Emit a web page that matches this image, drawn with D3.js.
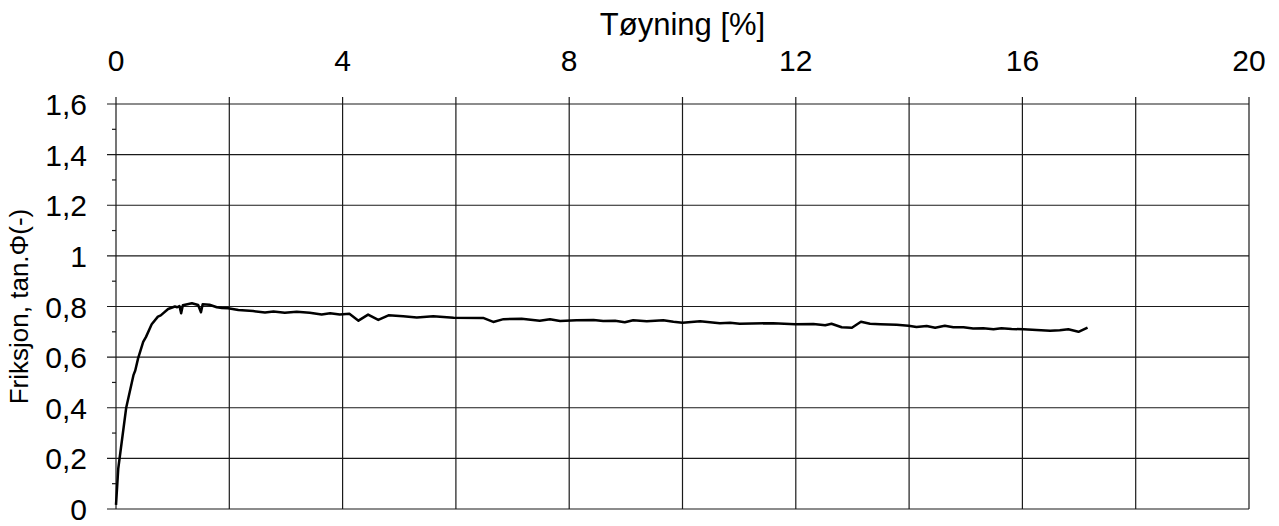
<!DOCTYPE html>
<html>
<head>
<meta charset="utf-8">
<script src="https://cdn.jsdelivr.net/npm/d3@7"></script>
<style>
  body { margin: 0; background: #fff; }
  text { font-family: "Liberation Sans", Arial, sans-serif; fill: #000; }
</style>
</head>
<body>
<div id="chart"></div>
<script>
// Tøyning [%] vs friksjon tan.Φ
const strain = [
  0, 0.04, 0.18, 0.31, 0.34, 0.39, 0.48, 0.53, 0.63, 0.74, 0.79, 0.92, 1.04, 1.08, 1.12, 1.15, 1.18,
  1.34, 1.45, 1.50, 1.53, 1.65, 1.78, 1.87, 1.98, 2.16, 2.42, 2.63, 2.78, 2.98, 3.19, 3.42, 3.63,
  3.78, 3.95, 4.12, 4.28, 4.45, 4.63, 4.81, 5.07, 5.31, 5.60, 5.96, 6.48, 6.66, 6.84, 7.16, 7.48,
  7.66, 7.84, 8.13, 8.43, 8.60, 8.81, 8.98, 9.13, 9.37, 9.66, 9.84, 10.0, 10.31, 10.66, 10.84, 11.01,
  11.60, 11.99, 12.31, 12.52, 12.63, 12.81, 12.99, 13.15, 13.31, 13.49, 13.78, 13.99, 14.13, 14.31,
  14.46, 14.63, 14.78, 14.96, 15.13, 15.31, 15.49, 15.63, 15.81, 16.02, 16.25, 16.49, 16.66, 16.81,
  16.99, 17.15
];
const friction = [
  0.016, 0.16, 0.40, 0.53, 0.547, 0.595, 0.66, 0.68, 0.73, 0.76, 0.765, 0.79, 0.80, 0.797, 0.802, 0.773, 0.805,
  0.813, 0.806, 0.777, 0.809, 0.807, 0.797, 0.794, 0.793, 0.786, 0.782, 0.776, 0.780, 0.775, 0.779, 0.775, 0.768,
  0.773, 0.768, 0.771, 0.744, 0.768, 0.747, 0.765, 0.761, 0.757, 0.761, 0.756, 0.755, 0.739, 0.750, 0.752, 0.744,
  0.750, 0.743, 0.746, 0.747, 0.743, 0.744, 0.738, 0.746, 0.742, 0.746, 0.740, 0.736, 0.742, 0.734, 0.736, 0.732,
  0.734, 0.730, 0.731, 0.726, 0.732, 0.718, 0.716, 0.740, 0.732, 0.730, 0.728, 0.724, 0.719, 0.723,
  0.716, 0.724, 0.718, 0.718, 0.713, 0.714, 0.710, 0.714, 0.711, 0.710, 0.707, 0.704, 0.706, 0.710,
  0.700, 0.717
];
const xTicks = [0, 2, 4, 6, 8, 10, 12, 14, 16, 18, 20];
const xTickLabels = [0, 4, 8, 12, 16, 20];
const yTicks = [0, 0.2, 0.4, 0.6, 0.8, 1, 1.2, 1.4, 1.6];
const yMinorTicks = [0.1, 0.3, 0.5, 0.7, 0.9, 1.1, 1.3, 1.5];

const width = 1279, height = 526;
const margin = { top: 104, right: 30, bottom: 17, left: 116 };

const svg = d3.select('#chart').append('svg')
  .attr('width', width)
  .attr('height', height);

const x = d3.scaleLinear().domain([0, 20]).range([margin.left, width - margin.right]);
const y = d3.scaleLinear().domain([0, 1.6]).range([height - margin.bottom, margin.top]);

const fmt = d => String(d).replace('.', ',');

// grid
svg.append('g').selectAll('line.h')
  .data(yTicks)
  .enter().append('line')
  .attr('x1', x(0) - 9).attr('x2', x(20))
  .attr('y1', d => y(d)).attr('y2', d => y(d))
  .attr('stroke', '#1a1a1a').attr('stroke-width', 1.2);

svg.append('g').selectAll('line.v')
  .data(xTicks)
  .enter().append('line')
  .attr('x1', d => x(d)).attr('x2', d => x(d))
  .attr('y1', y(1.6) - 7).attr('y2', y(0))
  .attr('stroke', '#1a1a1a').attr('stroke-width', 1.2);

// minor y ticks
svg.append('g').selectAll('line')
  .data(yMinorTicks)
  .enter().append('line')
  .attr('x1', x(0) - 4).attr('x2', x(0))
  .attr('y1', d => y(d)).attr('y2', d => y(d))
  .attr('stroke', '#1a1a1a').attr('stroke-width', 1.2);

// tick labels
svg.append('g').selectAll('text')
  .data(yTicks)
  .enter().append('text')
  .attr('x', 87)
  .attr('y', d => y(d) + 11)
  .attr('text-anchor', 'end')
  .style('font-size', '30px')
  .text(fmt);

svg.append('g').selectAll('text')
  .data(xTickLabels)
  .enter().append('text')
  .attr('x', d => x(d))
  .attr('y', 71)
  .attr('text-anchor', 'middle')
  .style('font-size', '30px')
  .text(d => d);

// axis titles
svg.append('text')
  .attr('x', (x(0) + x(20)) / 2)
  .attr('y', 35)
  .attr('text-anchor', 'middle')
  .style('font-size', '31px')
  .text('Tøyning [%]');

svg.append('text')
  .attr('transform', `translate(28,${(y(0) + y(1.6)) / 2}) rotate(-90)`)
  .attr('text-anchor', 'middle')
  .style('font-size', '26px')
  .text('Friksjon, tan.Φ(-)');

// data line
const line = d3.line()
  .x((d, i) => x(strain[i]))
  .y(d => y(d));

svg.append('path')
  .datum(friction)
  .attr('fill', 'none')
  .attr('stroke', '#000')
  .attr('stroke-width', 2.5)
  .attr('stroke-linejoin', 'round')
  .attr('d', line);
</script>
</body>
</html>
